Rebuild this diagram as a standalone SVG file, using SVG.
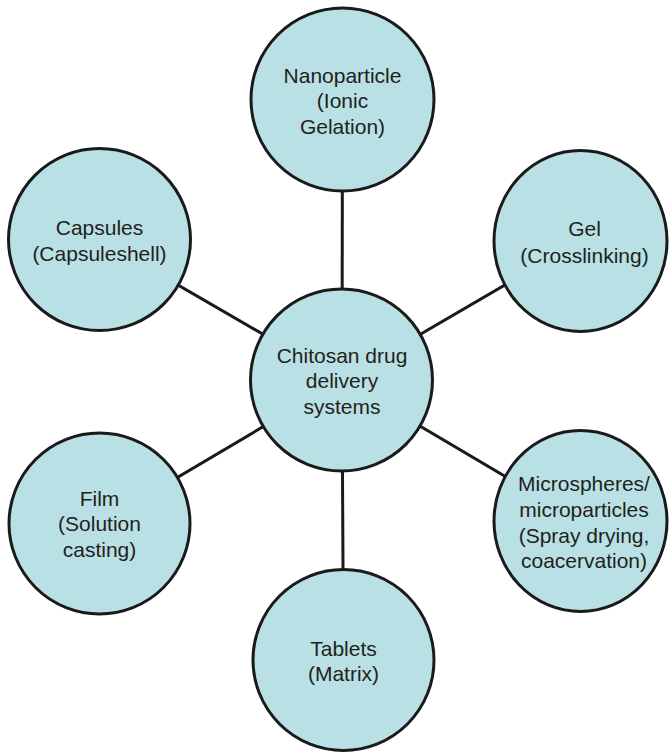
<svg xmlns="http://www.w3.org/2000/svg" width="669" height="754" viewBox="0 0 669 754">
<style>
.node{fill:#b9e0e4;stroke:#1a1a1a;stroke-width:3}
.conn line{stroke:#1a1a1a;stroke-width:3}
text{font-family:"Liberation Sans",Arial,sans-serif;font-size:21px;fill:#231f20;text-anchor:middle}
</style>
<rect width="669" height="754" fill="#ffffff"/>
<g id="connectors" class="conn">
<line x1="342" y1="380" x2="342.5" y2="99.5"/>
<line x1="342" y1="380" x2="99.5" y2="239.5"/>
<line x1="342" y1="380" x2="580.5" y2="241"/>
<line x1="342" y1="380" x2="99.5" y2="523.5"/>
<line x1="342" y1="380" x2="580.5" y2="521"/>
<line x1="342" y1="380" x2="343.5" y2="660"/>
</g>
<g id="center">
<circle class="node" cx="341.5" cy="380" r="91"/>
<text x="342" y="362.5">Chitosan drug</text>
<text x="342" y="387.5">delivery</text>
<text x="342" y="413.5">systems</text>
</g>
<g id="nanoparticle">
<circle class="node" cx="342.5" cy="99.5" r="91.5"/>
<text x="342.5" y="82.5">Nanoparticle</text>
<text x="342.5" y="107.5">(Ionic</text>
<text x="342.5" y="133.5">Gelation)</text>
</g>
<g id="capsules">
<circle class="node" cx="99.5" cy="239.5" r="91"/>
<text x="99.5" y="234.5">Capsules</text>
<text x="99.5" y="260.5">(Capsuleshell)</text>
</g>
<g id="gel">
<ellipse class="node" cx="580.5" cy="241" rx="86.5" ry="90.5"/>
<text x="584.5" y="235.5">Gel</text>
<text x="584.5" y="262.5">(Crosslinking)</text>
</g>
<g id="film">
<circle class="node" cx="99.5" cy="523.5" r="90.5"/>
<text x="99.5" y="505.5">Film</text>
<text x="99.5" y="530.5">(Solution</text>
<text x="99.5" y="556.5">casting)</text>
</g>
<g id="microspheres">
<ellipse class="node" cx="580.5" cy="521" rx="86.5" ry="90.5"/>
<text x="584" y="490.5">Microspheres/</text>
<text x="584" y="516.5">microparticles</text>
<text x="584" y="542.5">(Spray drying,</text>
<text x="584" y="567.5">coacervation)</text>
</g>
<g id="tablets">
<circle class="node" cx="343.5" cy="660" r="90.5"/>
<text x="343.5" y="655.5">Tablets</text>
<text x="343.5" y="680.5">(Matrix)</text>
</g>
</svg>
